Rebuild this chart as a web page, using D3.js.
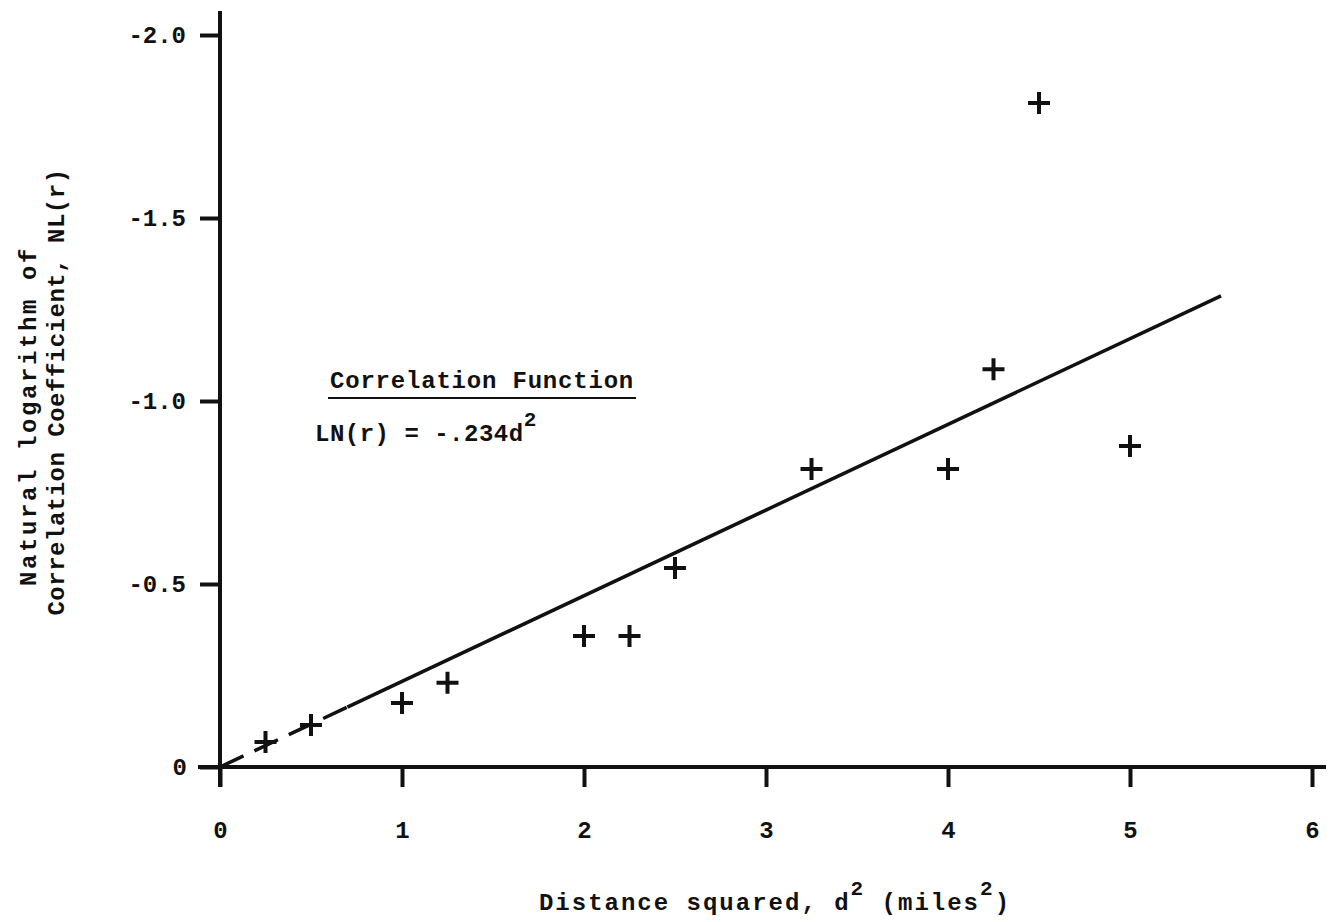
<!DOCTYPE html>
<html>
<head>
<meta charset="utf-8">
<script src="https://cdn.jsdelivr.net/npm/d3@7"></script>
<style>
  body { margin: 0; background: #fff; }
  text { font-family: "Liberation Mono", "DejaVu Sans Mono", monospace; font-weight: bold; fill: #111; }
</style>
</head>
<body>
<div id="chart"></div>
<script>
// squared distance (miles^2) and -ln(r)
const dist2 = [0.25, 0.5, 1.0, 1.25, 2.0, 2.25, 2.5, 3.25, 4.0, 4.25, 4.5, 5.0];
const negLnR = [0.068, 0.115, 0.175, 0.23, 0.358, 0.358, 0.544, 0.814, 0.814, 1.087, 1.814, 0.877];
const xTicks = [0, 1, 2, 3, 4, 5, 6];
const yTicks = [0, 0.5, 1.0, 1.5, 2.0];
const yTickLabels = ["0", "-0.5", "-1.0", "-1.5", "-2.0"];
const slope = 0.234;
const fitDashed = [0, 0.7];
const fitSolid = [0.7, 5.5];

const width = 1342, height = 922;
const fs = 24;

const x = d3.scaleLinear().domain([0, 6]).range([220, 1312]);
const y = d3.scaleLinear().domain([0, 2]).range([767, 35]);

const svg = d3.select("#chart")
  .append("svg")
  .attr("width", width)
  .attr("height", height);

// axes
const xAxis = svg.append("g")
  .attr("transform", `translate(0,${y(0)})`)
  .call(d3.axisBottom(x).tickValues(xTicks).tickFormat(d3.format("d"))
    .tickSize(20).tickPadding(29).tickSizeOuter(0));
xAxis.select(".domain").attr("d", `M${x(0) - 22},0H${x(6) + 14}`);

const yAxis = svg.append("g")
  .attr("transform", `translate(${x(0)},0)`)
  .call(d3.axisLeft(y).tickValues(yTicks).tickSize(20).tickPadding(14)
    .tickFormat((d, i) => yTickLabels[i]).tickSizeOuter(0));
yAxis.select(".domain").attr("d", `M0,${y(0) + 20}V${y(2) - 24}`);

svg.selectAll(".domain").attr("stroke", "#111").attr("stroke-width", 4);
svg.selectAll(".tick line").attr("stroke", "#111").attr("stroke-width", 4);
svg.selectAll(".tick text")
  .attr("font-size", fs)
  .attr("fill", "#111");
xAxis.selectAll(".tick text").attr("dy", "0.9em");
// "0" on y axis sits a little further out
yAxis.selectAll(".tick text").filter(d => d === 0).attr("x", -33);

// fitted line
const fit = d3.line().x(d => x(d)).y(d => y(slope * d));
svg.append("path")
  .datum(fitDashed)
  .attr("d", fit)
  .attr("fill", "none")
  .attr("stroke", "#111")
  .attr("stroke-width", 3.5)
  .attr("stroke-dasharray", "26,12");
svg.append("path")
  .datum(fitSolid)
  .attr("d", fit)
  .attr("fill", "none")
  .attr("stroke", "#111")
  .attr("stroke-width", 3.5);

// data points
svg.append("g")
  .selectAll("path")
  .data(dist2.map((d, i) => [d, negLnR[i]]))
  .join("path")
  .attr("transform", d => `translate(${x(d[0])},${y(d[1])})`)
  .attr("d", "M-11,0H11M0,-11V11")
  .attr("stroke", "#111")
  .attr("stroke-width", 4);

// annotation
svg.append("text")
  .attr("x", 330).attr("y", 388)
  .attr("font-size", fs)
  .style("letter-spacing", "0.8px")
  .text("Correlation Function");
svg.append("line")
  .attr("x1", 328).attr("x2", 636)
  .attr("y1", 398).attr("y2", 398)
  .attr("stroke", "#111").attr("stroke-width", 2);

const eq = svg.append("text")
  .attr("x", 315).attr("y", 441)
  .attr("font-size", fs)
  .style("letter-spacing", "0.5px");
eq.append("tspan").text("LN(r) = -.234d");
eq.append("tspan").attr("dy", -15).attr("font-size", 21).text("2");

// axis titles
const xl = svg.append("text")
  .attr("x", 775).attr("y", 910)
  .attr("text-anchor", "middle")
  .attr("font-size", fs)
  .style("letter-spacing", "2px");
xl.append("tspan").text("Distance squared, d");
xl.append("tspan").attr("dy", -15).attr("font-size", 21).text("2");
xl.append("tspan").attr("dy", 15).text(" (miles");
xl.append("tspan").attr("dy", -15).attr("font-size", 21).text("2");
xl.append("tspan").attr("dy", 15).text(")");

svg.append("text")
  .attr("transform", "translate(36,416) rotate(-90)")
  .attr("text-anchor", "middle")
  .attr("font-size", fs)
  .style("letter-spacing", "2.6px")
  .text("Natural logarithm of");
svg.append("text")
  .attr("transform", "translate(64,392) rotate(-90)")
  .attr("text-anchor", "middle")
  .attr("font-size", fs)
  .style("letter-spacing", "0.5px")
  .text("Correlation Coefficient, NL(r)");
</script>
</body>
</html>
